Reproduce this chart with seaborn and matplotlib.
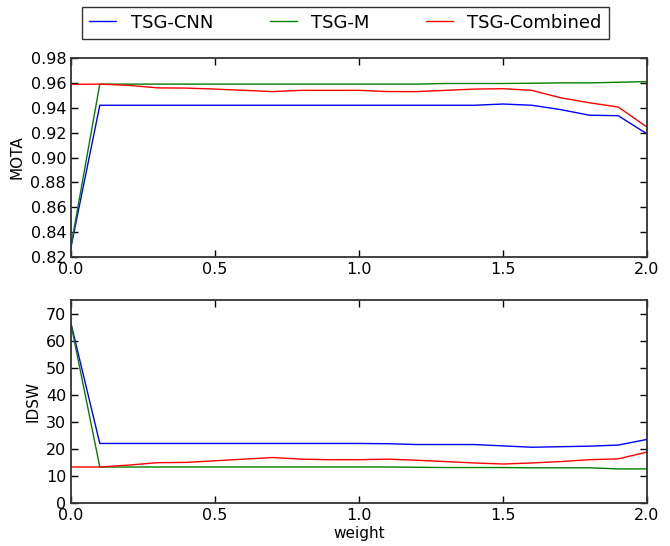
import numpy as np
import pandas as pd
import matplotlib
matplotlib.use("Agg")
import matplotlib.pyplot as plt
import seaborn as sns

weights = [round(0.1 * i, 1) for i in range(21)]

mota_cnn = [0.828, 0.942, 0.942, 0.942, 0.942, 0.942, 0.942, 0.942, 0.942, 0.942, 0.942,
            0.942, 0.942, 0.942, 0.942, 0.943, 0.942, 0.9385, 0.934, 0.9336, 0.919]
mota_m = [0.829, 0.959, 0.959, 0.959, 0.959, 0.959, 0.959, 0.959, 0.959, 0.959, 0.959,
          0.959, 0.959, 0.9595, 0.9595, 0.9595, 0.9597, 0.960, 0.960, 0.9605, 0.961]
mota_comb = [0.9588, 0.959, 0.958, 0.956, 0.9558, 0.955, 0.954, 0.953, 0.954, 0.954, 0.954,
             0.953, 0.953, 0.954, 0.955, 0.9553, 0.954, 0.948, 0.944, 0.9406, 0.9245]

idsw_cnn = [66.3, 22.0, 22.0, 22.0, 22.0, 22.0, 22.0, 22.0, 22.0, 22.0, 22.0,
            21.9, 21.6, 21.6, 21.6, 21.1, 20.6, 20.8, 21.0, 21.4, 23.5]
idsw_m = [66.0, 13.3, 13.3, 13.3, 13.3, 13.3, 13.3, 13.3, 13.3, 13.3, 13.3,
          13.3, 13.2, 13.1, 13.1, 13.1, 13.0, 13.0, 13.0, 12.6, 12.6]
idsw_comb = [13.3, 13.3, 14.0, 14.9, 15.0, 15.6, 16.2, 16.8, 16.2, 16.0, 16.0,
             16.2, 15.8, 15.3, 14.8, 14.4, 14.8, 15.3, 16.0, 16.3, 18.8]

methods = ["TSG-CNN", "TSG-M", "TSG-Combined"]
colors = ["#0000ff", "#008000", "#ff0000"]


def long_table(series):
    rows = []
    for name, vals in zip(methods, series):
        for w, v in zip(weights, vals):
            rows.append({"weight": w, "value": v, "method": name})
    return pd.DataFrame(rows)


mota_df = long_table([mota_cnn, mota_m, mota_comb])
idsw_df = long_table([idsw_cnn, idsw_m, idsw_comb])

sns.set_style("ticks")
plt.rcParams["font.family"] = ["DejaVu Sans"]
plt.rcParams["xtick.direction"] = "in"
plt.rcParams["ytick.direction"] = "in"
plt.rcParams["text.color"] = "black"
plt.rcParams["axes.labelcolor"] = "black"
plt.rcParams["xtick.color"] = "black"
plt.rcParams["ytick.color"] = "black"

fig = plt.figure(figsize=(6.7, 5.46), dpi=100)
ax1 = fig.add_axes([71 / 670, 1 - 257 / 546, 576 / 670, 199 / 546])
ax2 = fig.add_axes([71 / 670, 1 - 503 / 546, 576 / 670, 203 / 546])

for ax, df, ylabel in [(ax1, mota_df, "MOTA"), (ax2, idsw_df, "IDSW")]:
    sns.lineplot(data=df, x="weight", y="value", hue="method", palette=colors,
                 hue_order=methods, linewidth=1, ax=ax, legend=(ax is ax1))
    ax.set_xlim(0, 2.0)
    ax.set_xticks([0, 0.5, 1.0, 1.5, 2.0])
    ax.set_ylabel(ylabel, fontsize=11)
    ax.tick_params(axis="both", labelsize=11.5, top=True, right=True,
                   length=5, width=1)
    ax.tick_params(axis="x", pad=3.5)
    for s in ax.spines.values():
        s.set_color("#333333")
        s.set_linewidth(1.3)

ax1.set_ylim(0.82, 0.98)
ax1.set_yticks(np.arange(0.82, 0.981, 0.02))
ax1.set_xlabel("")
ax2.set_ylim(0, 75)
ax2.set_yticks(range(0, 80, 10))
ax2.set_xlabel("weight", fontsize=11, labelpad=2)

handles, labels = ax1.get_legend_handles_labels()
ax1.get_legend().remove()
leg = fig.legend(handles, labels, ncol=3, mode="expand", loc="lower left",
                 bbox_to_anchor=(82 / 670, 1 - 39 / 546, 527 / 670, 33 / 546),
                 fontsize=13, frameon=True, fancybox=False, handlelength=1.5,
                 borderaxespad=0)
leg.get_frame().set_edgecolor("black")
leg.get_frame().set_linewidth(1)

fig.savefig("out.png", dpi=100)
